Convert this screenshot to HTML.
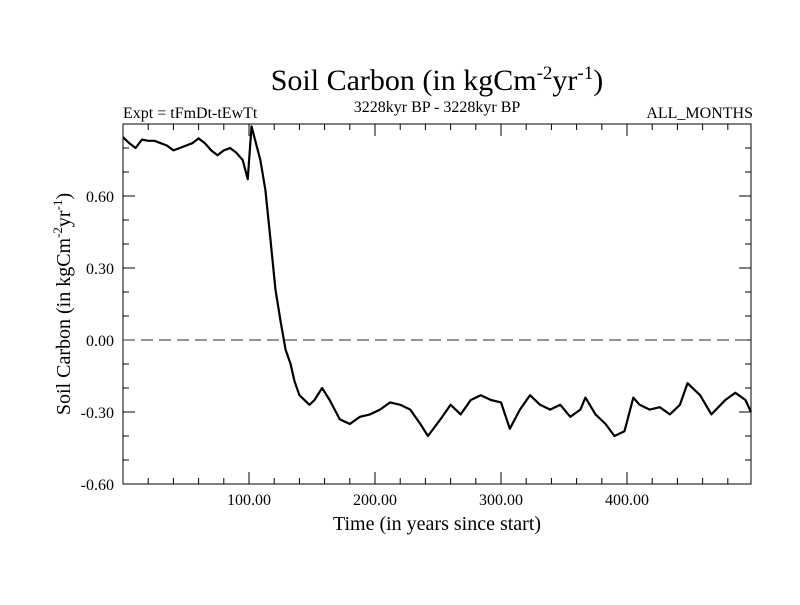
<!DOCTYPE html>
<html><head><meta charset="utf-8"><style>
body{margin:0;background:#fff}
svg text{font-family:"Liberation Serif",serif;fill:#000}
</style></head><body>
<svg id="c" width="800" height="600" xmlns="http://www.w3.org/2000/svg">
<text x="437" y="90" font-size="30" text-anchor="middle">Soil Carbon (in kgCm<tspan font-size="19" dy="-11">-2</tspan><tspan dy="11">yr</tspan><tspan font-size="19" dy="-11">-1</tspan><tspan dy="11">)</tspan></text>
<text x="123" y="118" font-size="16">Expt = tFmDt-tEwTt</text>
<text x="437" y="112" font-size="16" text-anchor="middle">3228kyr BP - 3228kyr BP</text>
<text x="753" y="118" font-size="16" text-anchor="end">ALL_MONTHS</text>
<text x="437" y="530" font-size="20" text-anchor="middle">Time (in years since start)</text>
<text transform="translate(70,304) rotate(-90)" font-size="20" text-anchor="middle">Soil Carbon (in kgCm<tspan font-size="13" dy="-8">-2</tspan><tspan dy="8">yr</tspan><tspan font-size="13" dy="-8">-1</tspan><tspan dy="8">)</tspan></text>
<g id="ax"></g>
</svg>
<script>
const times=[0,5,10,15,20,25,30,35,40,45,50,55,60,65,70,75,80,85,90,95,99,102,109,113,117,121,125,129,133,136,140,148,152,158,164,172,180,188,196,204,212,220,228,236,242,252,260,268,276,284,292,300,307,315,323,331,339,347,355,363,367,375,383,390,398,405,410,418,426,434,442,448,458,467,478,486,494,498.4];
const values=[0.845,0.82,0.80,0.835,0.83,0.83,0.82,0.81,0.79,0.80,0.81,0.82,0.84,0.82,0.79,0.77,0.79,0.80,0.78,0.75,0.67,0.89,0.75,0.625,0.42,0.21,0.08,-0.04,-0.10,-0.17,-0.23,-0.27,-0.25,-0.20,-0.25,-0.33,-0.35,-0.32,-0.31,-0.29,-0.26,-0.27,-0.29,-0.35,-0.40,-0.33,-0.27,-0.31,-0.25,-0.23,-0.25,-0.26,-0.37,-0.29,-0.23,-0.27,-0.29,-0.27,-0.32,-0.29,-0.24,-0.31,-0.35,-0.40,-0.38,-0.24,-0.27,-0.29,-0.28,-0.31,-0.27,-0.18,-0.23,-0.31,-0.25,-0.22,-0.25,-0.30];
const xTicks=[100,200,300,400];
const xTickLabels=["100.00","200.00","300.00","400.00"];
const yTicks=[-0.6,-0.3,0,0.3,0.6];
const yTickLabels=["-0.60","-0.30","0.00","0.30","0.60"];
const X0=123,X1=751,Y0=124,Y1=484,XMIN=0,XMAX=498.4,YMIN=-0.6,YMAX=0.9;
const sx=t=>X0+(t-XMIN)/(XMAX-XMIN)*(X1-X0);
const sy=v=>Y1-(v-YMIN)/(YMAX-YMIN)*(Y1-Y0);
const NS="http://www.w3.org/2000/svg",g=document.getElementById('ax');
function mk(tag,a){const e=document.createElementNS(NS,tag);for(const k in a)e.setAttribute(k,a[k]);g.appendChild(e);return e;}
let r=mk('rect',{x:X0,y:Y0,width:X1-X0,height:Y1-Y0,fill:'none',stroke:'#000','stroke-width':1});


for(let t=20;t<XMAX;t+=20){const maj=t%100===0,L=maj?12:6;
 let a=mk('line',{x1:sx(t),x2:sx(t),y1:Y1,y2:Y1-L,stroke:'#000'});
 let b=mk('line',{x1:sx(t),x2:sx(t),y1:Y0,y2:Y0+L,stroke:'#000'});}
for(let i=-6;i<=9;i++){const v=i/10,maj=i%3===0,L=maj?12:6;
 let a=mk('line',{x1:X0,x2:X0+L,y1:sy(v),y2:sy(v),stroke:'#000'});
 let b=mk('line',{x1:X1,x2:X1-L,y1:sy(v),y2:sy(v),stroke:'#000'});}
xTicks.forEach((t,i)=>{let e=mk('text',{x:sx(t),y:505,'font-size':16,'text-anchor':'middle'});e.textContent=xTickLabels[i];
 });
yTicks.forEach((v,i)=>{let e=mk('text',{x:114,y:sy(v)+6,'font-size':16,'text-anchor':'end'});e.textContent=yTickLabels[i];
 });
let z=mk('line',{x1:X0,x2:X1,y1:sy(0),y2:sy(0),stroke:'#555','stroke-dasharray':'12,6','stroke-width':1.2});

let p=mk('polyline',{points:times.map((t,i)=>sx(t)+','+sy(values[i])).join(' '),fill:'none',stroke:'#000','stroke-width':2.2,'stroke-linejoin':'round'});

</script>
</body></html>
